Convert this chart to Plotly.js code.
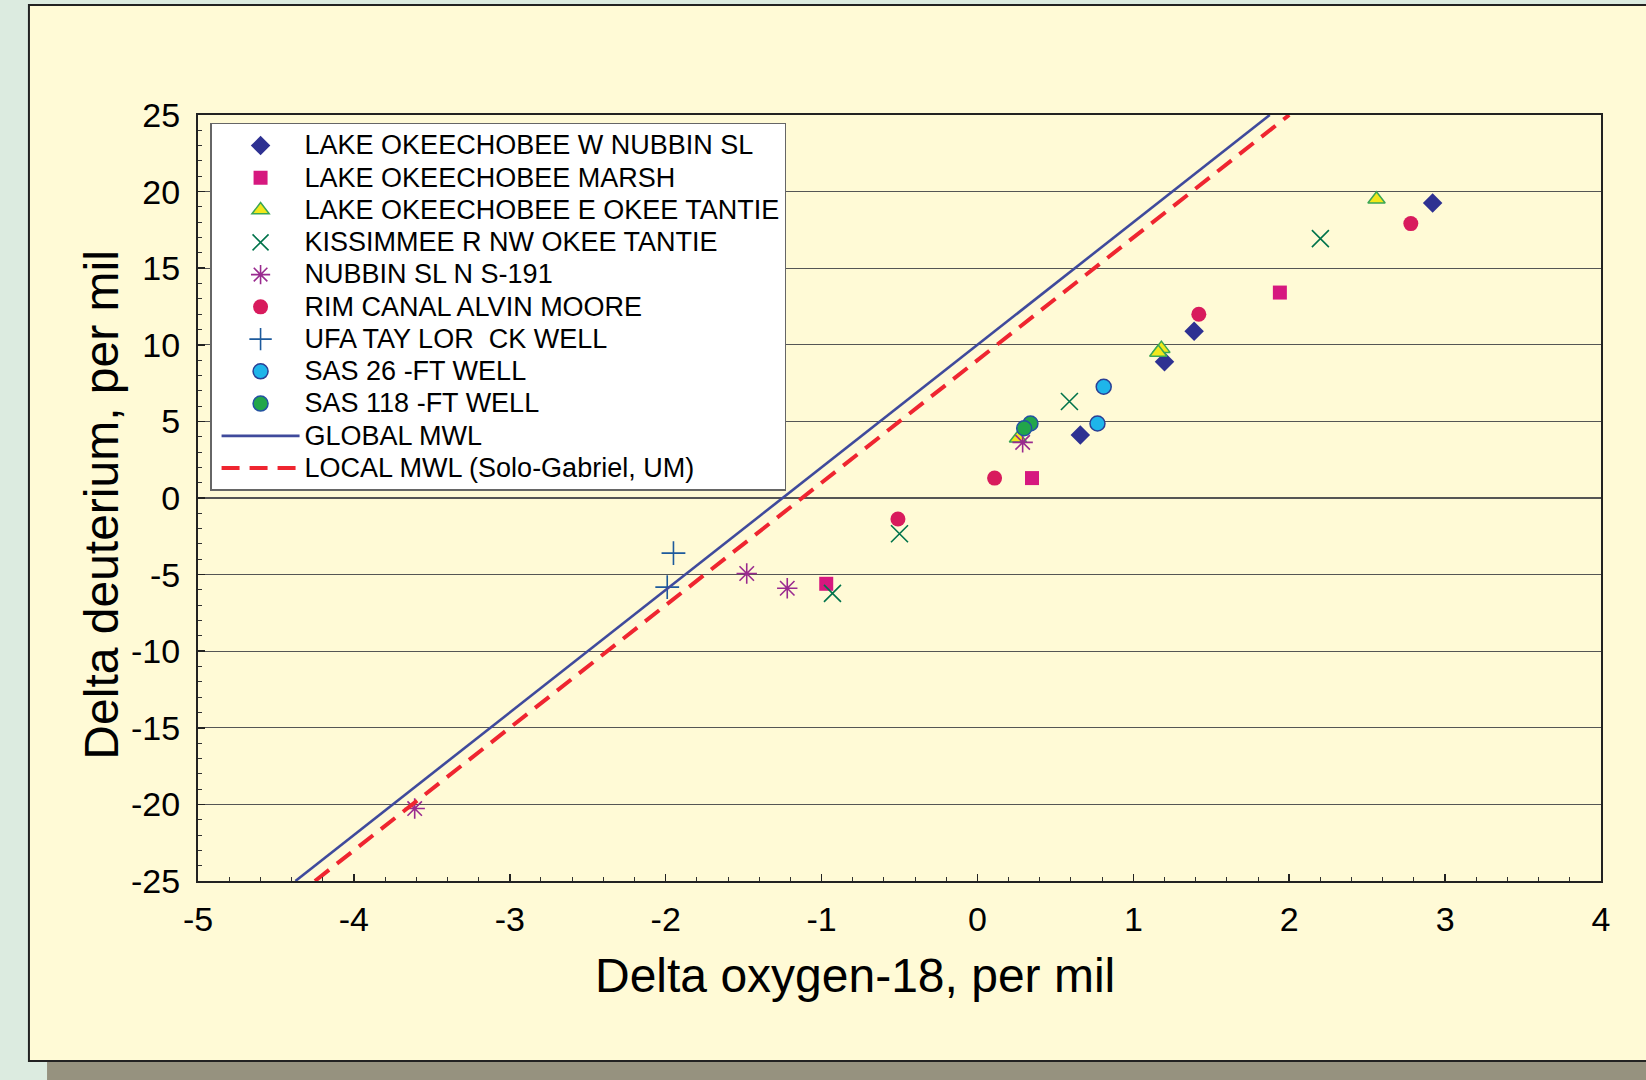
<!DOCTYPE html>
<html>
<head>
<meta charset="utf-8">
<script src="https://cdn.plot.ly/plotly-3.0.1.min.js"></script>
<style>
html,body{margin:0;padding:0;background:#dcebe0;}
.legendtext{font-size:27px !important;}
</style>
</head>
<body>
<div id="chart" style="width:1646px;height:1080px;"></div>
<script>
// ---- data ----
const wNubbinX = [2.92, 1.39, 1.20, 0.66];
const wNubbinY = [19.26, 10.89, 8.9, 4.11];

const marshX = [1.94, 0.35, -0.97];
const marshY = [13.41, 1.3, -5.6];

const eTantieX = [2.56, 1.18, 1.16, 0.26];
const eTantieY = [19.5, 9.75, 9.5, 3.9];

const kissX = [2.20, 0.59, -0.50, -0.93];
const kissY = [16.93, 6.3, -2.33, -6.23];

const nubbinNX = [-3.61, -1.48, -1.22, 0.29];
const nubbinNY = [-20.27, -4.93, -5.89, 3.63];

const rimX = [2.78, 1.42, 0.11, -0.51];
const rimY = [17.91, 11.99, 1.3, -1.37];

const ufaX = [-1.95, -1.99];
const ufaY = [-3.6, -5.82];

const sas26X = [0.81, 0.77];
const sas26Y = [7.26, 4.86];

const sas118X = [0.34, 0.30];
const sas118Y = [4.86, 4.55];

const globalX = [-4.375, 1.875];
const globalY = [-25, 25];
const localX = [-4.25, 2.0];
const localY = [-25, 25];

const names = [
  "LAKE OKEECHOBEE W NUBBIN SL",
  "LAKE OKEECHOBEE MARSH",
  "LAKE OKEECHOBEE E OKEE TANTIE",
  "KISSIMMEE R NW OKEE TANTIE",
  "NUBBIN SL N S-191",
  "RIM CANAL ALVIN MOORE",
  "UFA TAY LOR  CK WELL",
  "SAS 26 -FT WELL",
  "SAS 118 -FT WELL",
  "GLOBAL MWL",
  "LOCAL MWL (Solo-Gabriel, UM)"
];

const xTitle = "Delta oxygen-18, per mil";
const yTitle = "Delta deuterium, per mil";

const xTickVals = [-5, -4, -3, -2, -1, 0, 1, 2, 3, 4];
const xTickText = ["-5", "-4", "-3", "-2", "-1", "0", "1", "2", "3", "4"];
const yTickVals = [-25, -20, -15, -10, -5, 0, 5, 10, 15, 20, 25];
const yTickText = ["-25", "-20", "-15", "-10", "-5", "0", "5", "10", "15", "20", "25"];

// ---- traces ----
function pts(x, y, name, marker) {
  return {x: x, y: y, name: name, type: "scatter", mode: "markers", marker: marker, cliponaxis: false};
}
const traces = [
  pts(wNubbinX, wNubbinY, names[0], {symbol: "diamond", size: 15, color: "#2e3192"}),
  pts(marshX, marshY, names[1], {symbol: "square", size: 14, color: "#d6187f"}),
  pts(eTantieX, eTantieY, names[2], {symbol: "triangle-up", size: 15, color: "#f2e81c", line: {color: "#3aa655", width: 1.5}}),
  pts(kissX, kissY, names[3], {symbol: "x-thin-open", size: 17, color: "#00734b", line: {color: "#00734b", width: 1.6}}),
  pts(nubbinNX, nubbinNY, names[4], {symbol: "asterisk-open", size: 17, color: "#9a2a8f", line: {color: "#9a2a8f", width: 1.6}}),
  pts(rimX, rimY, names[5], {symbol: "circle", size: 15, color: "#d81b5d"}),
  pts(ufaX, ufaY, names[6], {symbol: "cross-thin-open", size: 17, color: "#1d5a9c", line: {color: "#1d5a9c", width: 1.6}}),
  pts(sas26X, sas26Y, names[7], {symbol: "circle", size: 15, color: "#1eb5ea", line: {color: "#2a3f95", width: 1.5}}),
  pts(sas118X, sas118Y, names[8], {symbol: "circle", size: 15, color: "#22a64a", line: {color: "#2352a2", width: 1.5}}),
  {x: globalX, y: globalY, name: names[9], type: "scatter", mode: "lines", line: {color: "#3f4a9c", width: 2.6}},
  {x: localX, y: localY, name: names[10], type: "scatter", mode: "lines", line: {color: "#ef2530", width: 4, dash: "18px,10px"}}
];

const FONT = "Arial, 'Liberation Sans', sans-serif";

const layout = {
  width: 1646, height: 1080,
  margin: {l: 198, r: 45, t: 115, b: 199},
  paper_bgcolor: "#dcebe0",
  plot_bgcolor: "#e1e8f0",
  font: {family: FONT, color: "#000"},
  showlegend: true,
  legend: {
    x: 0.0086, y: 0.9896, xanchor: "left", yanchor: "top",
    bgcolor: "#ffffff", bordercolor: "#666666", borderwidth: 1.5,
    font: {family: FONT, size: 22.5, color: "#000"},
    itemwidth: 78, indentation: 5, tracegroupgap: 0
  },
  xaxis: {
    range: [-5, 4], tickmode: "array", tickvals: xTickVals, ticktext: xTickText,
    showgrid: false, zeroline: false,
    showline: true, mirror: true, linecolor: "#222", linewidth: 2,
    ticks: "inside", ticklen: 7, tickwidth: 1.5, tickcolor: "#222",
    minor: {dtick: 0.2, ticks: "inside", ticklen: 4, tickwidth: 1, tickcolor: "#333", showgrid: false},
    tickfont: {family: FONT, size: 34, color: "#000"},
    ticklabelstandoff: 7
  },
  yaxis: {
    range: [-25, 25], tickmode: "array", tickvals: yTickVals, ticktext: yTickText,
    showgrid: true, gridcolor: "#555555", gridwidth: 1.4, zeroline: false,
    showline: true, mirror: true, linecolor: "#222", linewidth: 2,
    ticks: "inside", ticklen: 7, tickwidth: 1.5, tickcolor: "#222",
    minor: {dtick: 1, ticks: "inside", ticklen: 4, tickwidth: 1, tickcolor: "#333", showgrid: false},
    tickfont: {family: FONT, size: 34, color: "#000"},
    ticklabelstandoff: 9
  },
  annotations: [
    {text: xTitle, xref: "paper", yref: "paper", x: 0.4686, y: -0.124,
     xanchor: "center", yanchor: "middle", showarrow: false,
     font: {family: FONT, size: 48, color: "#000"}},
    {text: yTitle, xref: "paper", yref: "paper", x: -0.0686, y: 0.491,
     xanchor: "center", yanchor: "middle", showarrow: false, textangle: -90,
     font: {family: FONT, size: 48, color: "#000"}}
  ],
  shapes: [
    {type: "rect", xref: "paper", yref: "paper", layer: "below",
     x0: -0.1076, x1: 1.04, y0: -0.27, y1: -0.235,
     fillcolor: "#96927f", line: {width: 0}},
    {type: "rect", xref: "paper", yref: "paper", layer: "below",
     x0: -0.1205, x1: 1.04, y0: -0.235, y1: 1.1436,
     fillcolor: "#fffad6", line: {color: "#222", width: 2}}
  ]
};

Plotly.newPlot("chart", traces, layout, {displayModeBar: false, staticPlot: true});
</script>
</body>
</html>
